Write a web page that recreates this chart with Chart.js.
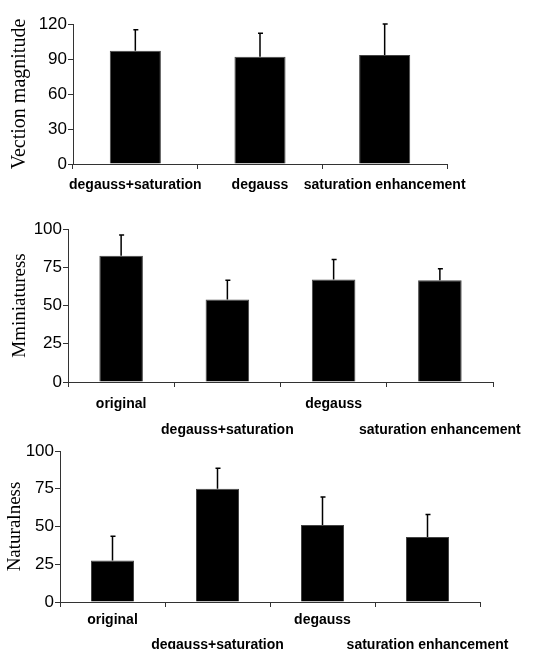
<!DOCTYPE html>
<html>
<head>
<meta charset="utf-8">
<script src="https://cdn.jsdelivr.net/npm/chart.js@4"></script>
<style>
    body { margin: 0; background: #fff; }
    #wrap { position: relative; width: 537px; height: 649px; overflow: hidden; }
    .box { position: absolute; left: 0; width: 537px; }
</style>
</head>
<body>
<div id="wrap">
    <div class="box" style="top:0px;height:205px;"><canvas id="vectionChart"></canvas></div>
    <div class="box" style="top:210px;height:230px;"><canvas id="miniChart"></canvas></div>
    <div class="box" style="top:430px;height:219px;"><canvas id="naturalChart"></canvas></div>
</div>
<script>
// データ
const vectionLabels = ['degauss+saturation', 'degauss', 'saturation enhancement'];
const vectionMeans = [97, 92, 93.5];
const vectionSD = [18, 20, 26.5];
const vectionTicks = [0, 30, 60, 90, 120];

// 2段ずらしのラベル
const miniLabels = [['original', ''], ['', 'degauss+saturation'], ['degauss', ''], ['', 'saturation enhancement']];
const miniMeans = [82.5, 54, 67, 66.5];
const miniSD = [13.5, 12.5, 13, 7.5];

const naturalLabels = [['original', ''], ['', 'degauss+saturation'], ['degauss', ''], ['', 'saturation enhancement']];
const naturalMeans = [27.5, 75, 51, 43];
const naturalSD = [16, 13.5, 18.5, 15];

const percentTicks = [0, 25, 50, 75, 100];

Chart.defaults.color = '#000';
Chart.defaults.animation = false;

// エラーバー(上側のみ)
const errorBarPlugin = {
    id: 'errorBars',
    afterDatasetsDraw(chart, args, opts) {
        const ctx = chart.ctx;
        const yScale = chart.scales.y;
        const meta = chart.getDatasetMeta(0);
        const means = chart.data.datasets[0].data;
        ctx.save();
        ctx.strokeStyle = '#000';
        ctx.lineWidth = 1.5;
        meta.data.forEach((bar, i) => {
            const top = yScale.getPixelForValue(means[i] + opts.sd[i]);
            const base = yScale.getPixelForValue(means[i]);
            ctx.beginPath();
            ctx.moveTo(bar.x, base);
            ctx.lineTo(bar.x, top);
            ctx.moveTo(bar.x - 2, top);
            ctx.lineTo(bar.x + 3, top);
            ctx.stroke();
        });
        ctx.restore();
    }
};

function makeChart(id, cfg) {
    const ctx = document.getElementById(id);
    return new Chart(ctx, {
        type: 'bar',
        data: {
            labels: cfg.labels,
            datasets: [{
                data: cfg.means,
                backgroundColor: '#000',
                borderColor: '#444',
                borderWidth: 1,
                categoryPercentage: 1,
                barPercentage: 0.41
            }]
        },
        options: {
            responsive: true,
            maintainAspectRatio: false,
            layout: {
                padding: { top: cfg.top, right: cfg.right, left: 0, bottom: 0 }
            },
            plugins: {
                legend: { display: false },
                tooltip: { enabled: false },
                errorBars: { sd: cfg.sd }
            },
            scales: {
                x: {
                    offset: true,
                    border: { color: '#333', width: 1 },
                    grid: { offset: true, drawOnChartArea: false, drawTicks: true, tickLength: 5, color: '#333' },
                    ticks: {
                        autoSkip: false,
                        maxRotation: 0,
                        minRotation: 0,
                        padding: cfg.labelPad,
                        font: { family: 'Liberation Sans, Arial, sans-serif', size: 14, weight: 'bold', lineHeight: cfg.lineHeight }
                    },
                    afterFit(scale) { scale.height = cfg.xHeight; }
                },
                y: {
                    min: cfg.ticks[0],
                    max: cfg.ticks[cfg.ticks.length - 1],
                    afterBuildTicks(scale) {
                        scale.ticks = cfg.ticks.map(v => ({ value: v }));
                    },
                    border: { color: '#333', width: 1 },
                    grid: { drawOnChartArea: false, drawTicks: true, tickLength: 5, color: '#333' },
                    ticks: {
                        padding: 1,
                        font: { family: 'Liberation Sans, Arial, sans-serif', size: 17 }
                    },
                    title: {
                        display: true,
                        text: cfg.title,
                        padding: { top: cfg.titlePad, bottom: 0 },
                        font: { family: 'Liberation Serif, Times New Roman, serif', size: cfg.titleSize }
                    },
                    afterFit(scale) { scale.width = cfg.left; }
                }
            }
        },
        plugins: [errorBarPlugin]
    });
}

// チャート描画
makeChart('vectionChart', {
    labels: vectionLabels, means: vectionMeans, sd: vectionSD, ticks: vectionTicks,
    title: 'Vection magnitude', titleSize: 20, top: 24, right: 90, left: 73, xHeight: 41,
    labelPad: 8, lineHeight: 1.2, titlePad: 8
});
makeChart('miniChart', {
    labels: miniLabels, means: miniMeans, sd: miniSD, ticks: percentTicks,
    title: 'Mminiaturess', titleSize: 19, top: 19, right: 44, left: 68, xHeight: 58,
    labelPad: 4, lineHeight: 1.85, titlePad: 9
});
makeChart('naturalChart', {
    labels: naturalLabels, means: naturalMeans, sd: naturalSD, ticks: percentTicks,
    title: 'Naturalness', titleSize: 19, top: 21, right: 57, left: 60, xHeight: 47,
    labelPad: 1, lineHeight: 1.75, titlePad: 4
});
</script>
</body>
</html>
